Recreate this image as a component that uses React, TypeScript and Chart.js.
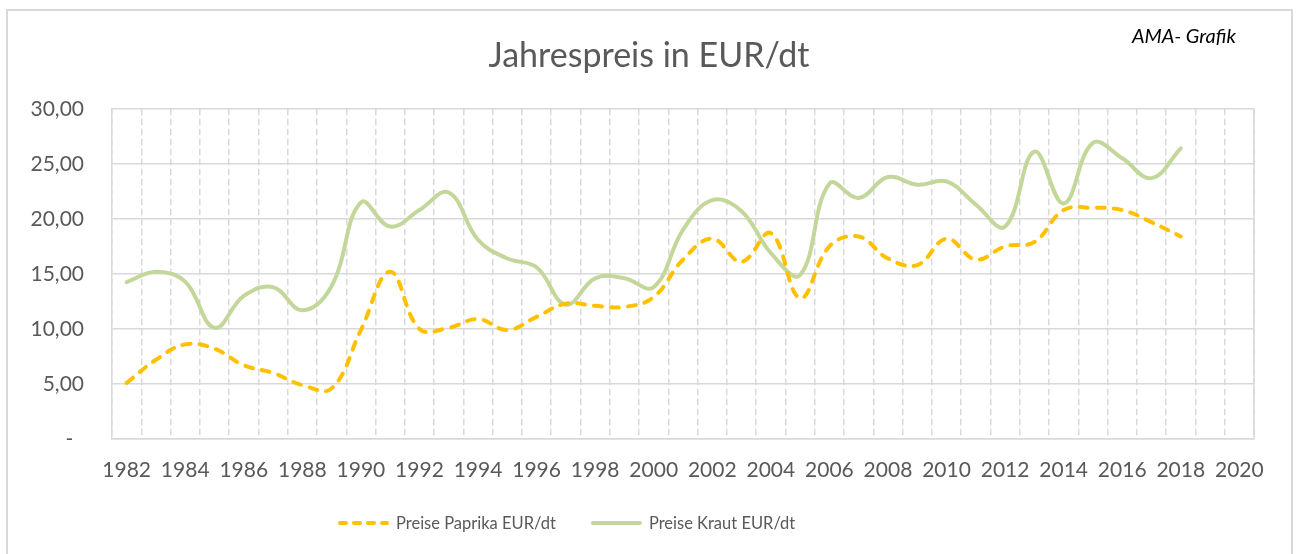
import React, { useEffect, useRef } from 'react';
import { Chart, registerables } from 'chart.js';

Chart.register(...registerables);

const years = [
  '1982', '1983', '1984', '1985', '1986', '1987', '1988', '1989', '1990', '1991',
  '1992', '1993', '1994', '1995', '1996', '1997', '1998', '1999', '2000', '2001',
  '2002', '2003', '2004', '2005', '2006', '2007', '2008', '2009', '2010', '2011',
  '2012', '2013', '2014', '2015', '2016', '2017', '2018', '2019', '2020',
];

const paprika = [
  5.1, 7.2, 8.6, 8.2, 6.7, 6.0, 4.9, 4.6, 9.9, 15.2,
  10.0, 10.1, 10.9, 9.9, 11.1, 12.3, 12.1, 12.0, 12.9, 16.3,
  18.2, 16.1, 18.7, 12.8, 17.5, 18.4, 16.4, 15.8, 18.2, 16.3,
  17.5, 17.9, 20.8, 21.0, 20.8, 19.7, 18.4,
];

const kraut = [
  14.25, 15.2, 14.3, 10.1, 13.0, 13.8, 11.7, 13.9, 21.5, 19.3,
  20.8, 22.4, 18.1, 16.4, 15.6, 12.2, 14.6, 14.6, 13.8, 19.0,
  21.7, 20.7, 16.9, 14.9, 23.2, 21.9, 23.8, 23.1, 23.4, 21.3,
  19.3, 26.1, 21.4, 26.9, 25.5, 23.7, 26.4,
];

const seriesNames = ['Preise Paprika EUR/dt', 'Preise Kraut EUR/dt'];
const titleText = 'Jahrespreis in EUR/dt';
const sourceText = 'AMA- Grafik';

const GRID = '#D9D9D9';
const TEXT = '#595959';
const FONT = 'Lato, "Open Sans", sans-serif';

export default function App() {
  const ref = useRef<HTMLCanvasElement>(null);

  useEffect(() => {
    if (!ref.current) return;
    const frame = {
      id: 'rightFrame',
      beforeDatasetsDraw(chart: any) {
        const { ctx, chartArea: a } = chart;
        ctx.save();
        ctx.strokeStyle = GRID;
        ctx.lineWidth = 1.5;
        ctx.beginPath();
        ctx.moveTo(a.right, a.top);
        ctx.lineTo(a.right, a.bottom);
        ctx.stroke();
        ctx.restore();
      },
    };
    const lineLegend = {
      id: 'lineLegend',
      afterDraw(chart: any) {
        const { ctx, chartArea } = chart;
        const y = chart.height - 31;
        let x = chartArea.left + 226;
        ctx.save();
        ctx.font = `16.5px ${FONT}`;
        ctx.textBaseline = 'middle';
        ctx.textAlign = 'left';
        chart.data.datasets.forEach((ds: any) => {
          ctx.beginPath();
          ctx.lineWidth = ds.borderWidth;
          ctx.strokeStyle = ds.borderColor;
          ctx.lineCap = 'round';
          ctx.setLineDash(ds.borderDash ? [6, 8] : []);
          ctx.moveTo(x + 2, y);
          ctx.lineTo(x + 49, y);
          ctx.stroke();
          ctx.setLineDash([]);
          ctx.fillStyle = TEXT;
          ctx.fillText(ds.label, x + 58, y + 1);
          x += 58 + ctx.measureText(ds.label).width + 35;
        });
        ctx.restore();
      },
    };
    const chart = new Chart(ref.current, {
      type: 'line',
      data: {
        labels: years,
        datasets: [
          {
            label: seriesNames[0],
            data: paprika,
            borderColor: '#FFC000',
            backgroundColor: '#FFC000',
            borderWidth: 4,
            borderDash: [8, 9],
            borderCapStyle: 'round',
            tension: 0.4,
            pointRadius: 0,
            fill: false,
          },
          {
            label: seriesNames[1],
            data: kraut,
            borderColor: '#C4D79B',
            backgroundColor: '#C4D79B',
            borderWidth: 4,
            borderCapStyle: 'round',
            tension: 0.4,
            pointRadius: 0,
            fill: false,
          },
        ],
      },
      options: {
        responsive: false,
        animation: false,
        layout: { padding: { left: 0, right: 0, top: 0, bottom: 71 } },
        plugins: {
          title: {
            display: true,
            text: titleText,
            color: TEXT,
            font: { family: FONT, size: 34, weight: 'normal' },
            padding: { top: 36, bottom: 32 },
          },
          legend: { display: false },
          tooltip: { enabled: false },
        },
        scales: {
          x: {
            offset: true,
            grid: { color: GRID, lineWidth: 1.5, offset: true, drawTicks: false },
            border: { color: GRID, width: 1.5, dash: [6.5, 3.5] },
            ticks: {
              autoSkip: false,
              maxRotation: 0,
              minRotation: 0,
              padding: 19,
              color: TEXT,
              font: { family: FONT, size: 21 },
              callback: (_v: any, i: number) => (i % 2 === 0 ? years[i] : ''),
            },
            afterFit: (s: any) => {
              s.height = 44;
            },
          },
          y: {
            min: 0,
            max: 30,
            grid: { color: GRID, lineWidth: 1.5, drawTicks: false },
            border: { color: GRID, width: 1.5 },
            ticks: {
              stepSize: 5,
              padding: 28,
              color: TEXT,
              font: { family: FONT, size: 21 },
              callback: (v: any) => (Number(v) === 0 ? '-  ' : Number(v).toFixed(2).replace('.', ',')),
            },
            afterFit: (s: any) => {
              s.width = 112;
            },
          },
          yRight: {
            position: 'right',
            display: true,
            grid: { display: false, drawTicks: false },
            border: { display: false },
            ticks: { display: false },
            afterFit: (s: any) => {
              s.width = 44;
            },
          },
        },
      },
      plugins: [frame, lineLegend],
    } as any);
    return () => chart.destroy();
  }, []);

  return (
    <div style={{ position: 'absolute', left: 0, top: 0, width: 1298, height: 554, overflow: 'hidden', background: '#fff' }}>
      <div
        style={{
          position: 'absolute',
          left: 6,
          top: 9,
          width: 1283,
          height: 600,
          border: `2px solid ${GRID}`,
        }}
      />
      <canvas ref={ref} width={1298} height={554} style={{ position: 'absolute', left: 0, top: 0, width: 1298, height: 554 }} />
      <div
        style={{
          position: 'absolute',
          left: 1132,
          top: 25,
          fontFamily: FONT,
          fontStyle: 'italic',
          fontSize: 20,
          lineHeight: 1,
          color: '#000',
          whiteSpace: 'nowrap',
        }}
      >
        {sourceText}
      </div>
    </div>
  );
}
